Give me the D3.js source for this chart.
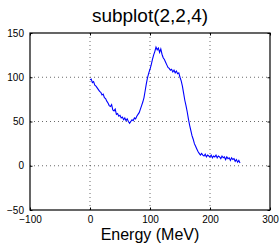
<!DOCTYPE html>
<html><head><meta charset="utf-8">
<script src="https://cdn.jsdelivr.net/npm/d3@7"></script>
<style>body{margin:0;background:#fff}svg{display:block}</style>
</head><body>
<script>
const titleText = "subplot(2,2,4)";
const xLabelText = "Energy (MeV)";
const xTicks = [-100, 0, 100, 200, 300];
const yTicks = [-50, 0, 50, 100, 150];
const xGrid = [0, 100, 200];
const yGrid = [0, 50, 100];
const energyStep = 2;
const counts = [97,98,94,95,91,90,88,86,84,83,80,81,77,76,73,71,68,67,69,63,
62,64,58,59,56,57,54,55,52,54,51,53,50,48,50,52,51,54,53,56,
58,60,64,68,72,77,85,93,100,105,109,114,120,125,129,134,131,133,128,132,
126,122,120,117,114,111,110,108,109,106,108,105,107,104,105,100,96,90,82,74,
68,61,53,46,40,34,30,25,22,19,16,14,12,14,12,11,13,10,12,11,
10,12,9,11,10,12,9,11,10,8,11,9,10,7,10,8,9,6,9,7,
8,5,7,4,6,3];
const energies = counts.map((_, i) => i * energyStep);

const W = 280, H = 243;
const m = {l:30, r:270, t:33, b:210};
const svg = d3.select("body").append("svg").attr("width", W).attr("height", H)
  .style("font-family", "'Liberation Sans', Arial, sans-serif");

const x = d3.scaleLinear().domain([-100, 300]).range([m.l, m.r]);
const y = d3.scaleLinear().domain([-50, 150]).range([m.b, m.t]);

// grid
const g = svg.append("g").attr("stroke", "#444").attr("stroke-width", 0.8).attr("stroke-dasharray", "1,3");
g.selectAll(".gx").data(xGrid).enter().append("line")
  .attr("x1", d => x(d)).attr("x2", d => x(d)).attr("y1", m.t).attr("y2", m.b);
g.selectAll(".gy").data(yGrid).enter().append("line")
  .attr("y1", d => y(d)).attr("y2", d => y(d)).attr("x1", m.l).attr("x2", m.r);

// data line
svg.append("path").datum(energies.map((e, i) => [e, counts[i]]))
  .attr("fill", "none").attr("stroke", "#0000ff").attr("stroke-width", 1.1)
  .attr("d", d3.line().x(d => x(d[0])).y(d => y(d[1])));

// axes with inward ticks
const tl = -2.5;
const fmt = d => d < 0 ? "\u2212" + Math.abs(d) : d;
svg.append("g").attr("transform", `translate(0,${m.b})`)
  .call(d3.axisBottom(x).tickValues(xTicks).tickSize(tl).tickPadding(5.5).tickFormat(fmt));
svg.append("g").attr("transform", `translate(0,${m.t})`)
  .call(d3.axisTop(x).tickValues(xTicks).tickSize(tl).tickFormat(""));
svg.append("g").attr("transform", `translate(${m.l},0)`)
  .call(d3.axisLeft(y).tickValues(yTicks).tickSize(tl).tickPadding(6).tickFormat(fmt));
svg.append("g").attr("transform", `translate(${m.r},0)`)
  .call(d3.axisRight(y).tickValues(yTicks).tickSize(tl).tickFormat(""));
svg.selectAll(".domain").remove();
svg.selectAll(".tick text").attr("font-size", 10).attr("fill", "#000")
  .attr("font-family", "'Liberation Sans', Arial, sans-serif");
svg.selectAll(".tick line").attr("stroke", "#000");

svg.append("rect").attr("x", m.l).attr("y", m.t).attr("width", m.r - m.l).attr("height", m.b - m.t)
  .attr("fill", "none").attr("stroke", "#000").attr("stroke-width", 1.2);

svg.append("text").attr("x", 150).attr("y", 22).attr("text-anchor", "middle")
  .attr("font-size", 19).text(titleText);
svg.append("text").attr("x", 150).attr("y", 239.5).attr("text-anchor", "middle")
  .attr("font-size", 16).text(xLabelText);
</script>
</body></html>
